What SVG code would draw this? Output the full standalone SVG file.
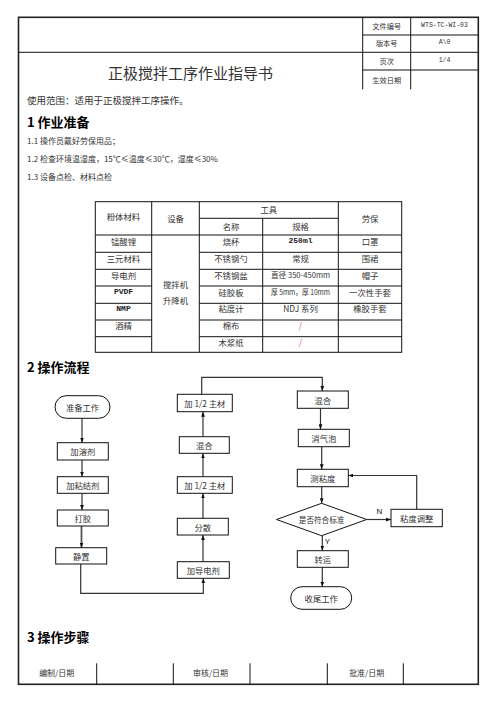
<svg xmlns="http://www.w3.org/2000/svg" width="496" height="702" viewBox="0 0 496 702">
<defs>
<style>
text{font-family:"Noto Sans CJK SC","Liberation Sans",sans-serif;fill:#333;dominant-baseline:central}
.c{text-anchor:middle}
.h{font-weight:bold;font-size:13px;fill:#000}
.b{font-size:8px}
.t{font-size:8.4px;text-anchor:middle}
.f{font-size:8.3px;text-anchor:middle}
.m{font-family:"Liberation Mono",monospace;font-size:6.5px;text-anchor:middle}
.mono{font-family:"Liberation Mono",monospace;font-size:8px;font-weight:bold;fill:#222}
.red{fill:#e05050}
.lat{font-family:"Liberation Sans",sans-serif;font-size:8px;text-anchor:middle;fill:#111}
.ln{stroke:#111;stroke-width:1;fill:none}
.box{fill:#fff;stroke:#111;stroke-width:1}
.con{fill:none;stroke:#333;stroke-width:1.2}
</style>
<marker id="ah" viewBox="0 0 8 6" refX="8" refY="3" markerWidth="5" markerHeight="4" orient="auto" markerUnits="userSpaceOnUse">
<path d="M0,0 L8,3 L0,6 Z" fill="#111"/>
</marker>
</defs>
<rect x="0" y="0" width="496" height="702" fill="#fff"/>

<g id="frame">
<rect x="18.5" y="17.3" width="459.8" height="667" fill="none" stroke="#222" stroke-width="1.6"/>
<line class="ln" x1="18.5" y1="52.3" x2="478.3" y2="52.3"/>
<line class="ln" x1="362.7" y1="35" x2="478.3" y2="35"/>
<line class="ln" x1="362.7" y1="70" x2="478.3" y2="70"/>
<line class="ln" x1="362.7" y1="17.3" x2="362.7" y2="89.3"/>
<line class="ln" x1="410.7" y1="17.3" x2="410.7" y2="89.3"/>
</g>

<g id="header">
<text x="386.7" y="25.5" class="c" font-size="7.2">文件编号</text>
<text x="444.5" y="25.5" class="m">WTS-TC-WI-03</text>
<text x="386.7" y="42.8" class="c" font-size="7.2">版本号</text>
<text x="444.5" y="42.8" class="m">A\0</text>
<text x="386.7" y="60.5" class="c" font-size="7.2">页次</text>
<text x="444.5" y="60.5" class="m">1/4</text>
<text x="386.7" y="80" class="c" font-size="7.2">生效日期</text>
<text x="190.5" y="72.5" class="c" font-size="15">正极搅拌工序作业指导书</text>
</g>

<g id="intro">
<text x="27" y="100" font-size="9.5">使用范围：适用于正极搅拌工序操作。</text>
<text x="27" y="121.5" class="h">1 作业准备</text>
<text x="27" y="140" class="b">1.1 操作员戴好劳保用品；</text>
<text x="27" y="158" class="b">1.2 检查环境温湿度，15℃≤温度≤30℃，湿度≤30%</text>
<text x="27" y="176.7" class="b">1.3 设备点检、材料点检</text>
</g>

<g id="table">
<rect x="95.3" y="201.7" width="306.4" height="150.6" fill="none" stroke="#111" stroke-width="1"/>
<line class="ln" x1="151.7" y1="201.7" x2="151.7" y2="352.3"/>
<line class="ln" x1="199.3" y1="201.7" x2="199.3" y2="352.3"/>
<line class="ln" x1="262.7" y1="218.3" x2="262.7" y2="352.3"/>
<line class="ln" x1="338.3" y1="201.7" x2="338.3" y2="352.3"/>
<line class="ln" x1="199.3" y1="218.3" x2="338.3" y2="218.3"/>
<line class="ln" x1="95.3" y1="235" x2="401.7" y2="235"/>
<g class="rows">
<line class="ln" x1="95.3" y1="252.3" x2="151.7" y2="252.3"/><line class="ln" x1="199.3" y1="252.3" x2="401.7" y2="252.3"/>
<line class="ln" x1="95.3" y1="269.3" x2="151.7" y2="269.3"/><line class="ln" x1="199.3" y1="269.3" x2="401.7" y2="269.3"/>
<line class="ln" x1="95.3" y1="286" x2="151.7" y2="286"/><line class="ln" x1="199.3" y1="286" x2="401.7" y2="286"/>
<line class="ln" x1="95.3" y1="303.3" x2="151.7" y2="303.3"/><line class="ln" x1="199.3" y1="303.3" x2="401.7" y2="303.3"/>
<line class="ln" x1="95.3" y1="320" x2="151.7" y2="320"/><line class="ln" x1="199.3" y1="320" x2="401.7" y2="320"/>
<line class="ln" x1="95.3" y1="336.7" x2="151.7" y2="336.7"/><line class="ln" x1="199.3" y1="336.7" x2="401.7" y2="336.7"/>
</g>
<text x="123.5" y="215.5" class="t">粉体材料</text>
<text x="175.5" y="218" class="t">设备</text>
<text x="268.8" y="208.5" class="t">工具</text>
<text x="231" y="226" class="t">名称</text>
<text x="300.5" y="226" class="t">规格</text>
<text x="370" y="218" class="t">劳保</text>
<text x="175.5" y="283.5" class="t">搅拌机</text>
<text x="175.5" y="300" class="t">升降机</text>

<text x="123.5" y="240.7" class="t">锰酸锂</text>
<text x="123.5" y="257.7" class="t">三元材料</text>
<text x="123.5" y="274.5" class="t">导电剂</text>
<text x="123.5" y="291.5" class="t mono">PVDF</text>
<text x="123.5" y="308.3" class="t mono">NMP</text>
<text x="123.5" y="325" class="t">酒精</text>

<text x="231" y="240.7" class="t">烧杯</text>
<text x="231" y="257.7" class="t">不锈钢勺</text>
<text x="231" y="274.5" class="t">不锈钢盆</text>
<text x="231" y="291.5" class="t">硅胶板</text>
<text x="231" y="308.3" class="t">粘度计</text>
<text x="231" y="325" class="t">棉布</text>
<text x="231" y="342" class="t">木浆纸</text>

<text x="300.5" y="240.7" class="t mono">250ml</text>
<text x="300.5" y="257.7" class="t">常规</text>
<text x="300.5" y="274.5" class="t" style="font-size:7.6px" textLength="59" lengthAdjust="spacingAndGlyphs">直径 350-450mm</text>
<text x="300.5" y="291.5" class="t" style="font-size:7.6px" textLength="59" lengthAdjust="spacingAndGlyphs">厚 5mm，厚 10mm</text>
<text x="300.5" y="308.3" class="t">NDJ 系列</text>
<text x="300.5" y="325" class="t red">/</text>
<text x="300.5" y="342" class="t red">/</text>

<text x="370" y="240.7" class="t">口罩</text>
<text x="370" y="257.7" class="t">围裙</text>
<text x="370" y="274.5" class="t">帽子</text>
<text x="370" y="291.5" class="t">一次性手套</text>
<text x="370" y="308.3" class="t">橡胶手套</text>
</g>

<text x="27" y="366" class="h">2 操作流程</text>

<g id="connectors">
<line class="con" x1="82" y1="418.3" x2="82" y2="442.7" marker-end="url(#ah)"/>
<line class="con" x1="82" y1="460" x2="82" y2="476.7" marker-end="url(#ah)"/>
<line class="con" x1="82" y1="493.3" x2="82" y2="510" marker-end="url(#ah)"/>
<line class="con" x1="81.5" y1="526" x2="81.5" y2="547.7" marker-end="url(#ah)" style="stroke-width:1.8;stroke:#555"/>
<polyline class="con" points="80.7,564 80.7,593.3 203.3,593.3 203.3,578.3" marker-end="url(#ah)"/>
<line class="con" x1="203" y1="561.7" x2="203" y2="535" marker-end="url(#ah)"/>
<line class="con" x1="203" y1="518.3" x2="203" y2="493.3" marker-end="url(#ah)"/>
<line class="con" x1="203" y1="476.7" x2="203" y2="453.3" marker-end="url(#ah)"/>
<line class="con" x1="203" y1="436.7" x2="203" y2="411.7" marker-end="url(#ah)"/>
<polyline class="con" points="201.7,394.3 201.7,377.3 322.3,377.3 322.3,391" marker-end="url(#ah)"/>
<line class="con" x1="320.5" y1="408.3" x2="320.5" y2="429.3" marker-end="url(#ah)"/>
<line class="con" x1="321.7" y1="446.7" x2="321.7" y2="469.3" marker-end="url(#ah)"/>
<line class="con" x1="321.7" y1="486.7" x2="321.7" y2="503.3" marker-end="url(#ah)"/>
<line class="con" x1="366.7" y1="519.5" x2="391" y2="519.5" marker-end="url(#ah)"/>
<polyline class="con" points="416.7,509.3 416.7,475.5 348.3,475.5" marker-end="url(#ah)"/>
<line class="con" x1="322.3" y1="535.5" x2="322.3" y2="550.7" marker-end="url(#ah)"/>
<line class="con" x1="322.3" y1="567.3" x2="322.3" y2="586.7" marker-end="url(#ah)"/>
<text x="379.5" y="511" class="lat">N</text>
<text x="327.5" y="541" class="lat">Y</text>
</g>

<g id="n-start"><rect class="box" x="55" y="395.7" width="55" height="22.6" rx="11.3"/><text x="82.5" y="407" class="f">准备工作</text></g>
<g id="n-solvent"><rect class="box" x="57.3" y="442.7" width="51" height="17.3"/><text x="82.8" y="451.4" class="f">加溶剂</text></g>
<g id="n-binder"><rect class="box" x="57.3" y="476.7" width="51" height="16.6"/><text x="82.8" y="485" class="f">加粘结剂</text></g>
<g id="n-glue"><rect class="box" x="57.3" y="510" width="51" height="16"/><text x="82.8" y="518" class="f">打胶</text></g>
<g id="n-rest"><rect class="box" x="55.7" y="547.7" width="51" height="16.3"/><text x="81.2" y="555.9" class="f">静置</text></g>
<g id="n-conductive"><rect class="box" x="177.3" y="561.7" width="52" height="16.6"/><text x="203.3" y="570" class="f">加导电剂</text></g>
<g id="n-disperse"><rect class="box" x="177.3" y="518.3" width="51" height="16.7"/><text x="202.8" y="526.6" class="f">分散</text></g>
<g id="n-main1"><rect class="box" x="177.3" y="476.7" width="55" height="16.6"/><text x="204.8" y="485" class="f">加 1/2 主材</text></g>
<g id="n-mix1"><rect class="box" x="179.3" y="436.7" width="50" height="16.6"/><text x="204.3" y="445" class="f">混合</text></g>
<g id="n-main2"><rect class="box" x="177.3" y="394.3" width="55" height="17.4"/><text x="204.8" y="403" class="f">加 1/2 主材</text></g>
<g id="n-mix2"><rect class="box" x="297.3" y="391" width="51" height="17.3"/><text x="322.8" y="399.7" class="f">混合</text></g>
<g id="n-defoam"><rect class="box" x="298.3" y="429.3" width="51" height="17.4"/><text x="323.8" y="438" class="f">消气泡</text></g>
<g id="n-visc"><rect class="box" x="297.3" y="469.3" width="51" height="17.4"/><text x="322.8" y="478" class="f">测粘度</text></g>
<g id="n-check"><polygon class="box" points="276.5,519.5 321.6,503.3 366.7,519.5 321.6,535.7"/><text x="321.6" y="519.5" class="f" style="font-size:7.6px">是否符合标准</text></g>
<g id="n-adjust"><rect class="box" x="391" y="509.3" width="51.3" height="17.4"/><text x="416.7" y="518" class="f">粘度调整</text></g>
<g id="n-transfer"><rect class="box" x="297.3" y="550.7" width="51" height="16.6"/><text x="322.8" y="559" class="f">转运</text></g>
<g id="n-end"><rect class="box" x="290.7" y="586.7" width="61" height="22.6" rx="11.3"/><text x="321.2" y="598" class="f">收尾工作</text></g>

<text x="27" y="636.7" class="h">3 操作步骤</text>

<g id="footer">
<line class="ln" x1="96.7" y1="663.3" x2="96.7" y2="684.3"/>
<line class="ln" x1="173.3" y1="663.3" x2="173.3" y2="684.3"/>
<line class="ln" x1="250" y1="663.3" x2="250" y2="684.3"/>
<line class="ln" x1="327.3" y1="663.3" x2="327.3" y2="684.3"/>
<line class="ln" x1="403.3" y1="663.3" x2="403.3" y2="684.3"/>
<text x="56.7" y="672.7" class="f" style="font-size:8px">编制/日期</text>
<text x="210.5" y="672.7" class="f" style="font-size:8px">审核/日期</text>
<text x="366.7" y="672.7" class="f" style="font-size:8px">批准/日期</text>
</g>
</svg>
